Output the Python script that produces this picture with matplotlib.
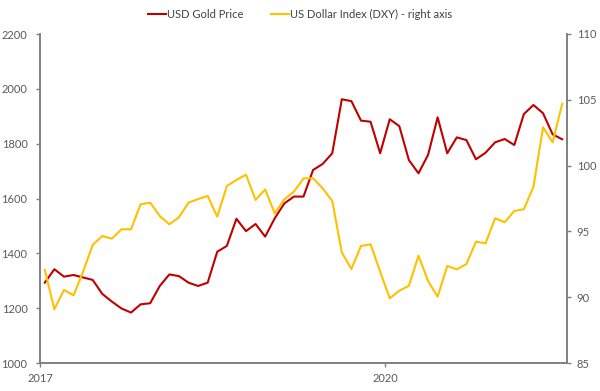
import matplotlib.pyplot as plt
import numpy as np

# monthly values
gold = [1293, 1342, 1315, 1321, 1312, 1303, 1252, 1224, 1199, 1184,
        1214, 1218, 1281, 1323, 1317, 1293, 1281, 1293, 1406, 1427,
        1526, 1481, 1507, 1461, 1528, 1582, 1607, 1607, 1704, 1726,
        1765, 1962, 1955, 1884, 1880, 1765, 1889, 1864, 1740, 1692,
        1759, 1896, 1765, 1823, 1813, 1743, 1767, 1805, 1817, 1795,
        1908, 1941, 1911, 1834, 1816]
dxy = [92.07, 89.08, 90.55, 90.14, 91.94, 93.97, 94.65, 94.45, 95.16, 95.16,
       97.06, 97.18, 96.17, 95.54, 96.07, 97.18, 97.46, 97.69, 96.12, 98.45,
       98.91, 99.31, 97.39, 98.19, 96.37, 97.44, 98.02, 99.03, 99.03, 98.27,
       97.31, 93.40, 92.14, 93.89, 94.02, 91.94, 89.91, 90.49, 90.87, 93.15,
       91.23, 90.04, 92.37, 92.12, 92.52, 94.22, 94.09, 96.00, 95.69, 96.55,
       96.68, 98.40, 102.91, 101.77, 104.70]
year_labels = ['2017', '2020']
year_pos = [-0.5, 35.5]

red = '#C00000'
amber = '#FFC000'
grey = '#808080'
txt = '#595959'

plt.rcParams['font.family'] = ['Lato', 'DejaVu Sans']
plt.rcParams['font.size'] = 8

fig = plt.figure(figsize=(6, 3.91), dpi=100)
ax = fig.add_axes([40/600, 1 - 363/391, 527/600, 329/391])
ax2 = ax.twinx()

x = np.arange(len(gold))
l1, = ax.plot(x, gold, color=red, lw=1.5, label='USD Gold Price')
l2, = ax2.plot(x, dxy, color=amber, lw=1.5, label='US Dollar Index (DXY) - right axis')

ax.set_xlim(-0.5, len(gold) - 0.5)
ax.set_ylim(1000, 2200)
ax.set_yticks(range(1000, 2201, 200))
ax2.set_ylim(85, 110)
ax2.set_yticks(range(85, 111, 5))
ax.set_xticks(year_pos)
ax.set_xticklabels(year_labels)

for a in (ax, ax2):
    a.spines['top'].set_visible(False)
    for s in ('left', 'right', 'bottom'):
        a.spines[s].set_color(grey)
        a.spines[s].set_linewidth(1.2)
    a.tick_params(colors=grey, labelcolor=txt, length=3, width=1)
ax.tick_params(axis='x', pad=4)
ax.tick_params(axis='y', pad=6)
ax2.tick_params(axis='y', pad=4)

fig.legend(handles=[l1, l2], loc='center', bbox_to_anchor=(0.5, 1 - 14/391),
           ncol=2, frameon=False, handlelength=1.6, handletextpad=0.1,
           columnspacing=2.5, labelcolor='#404040', fontsize=8)

fig.savefig('out.png', dpi=100)
